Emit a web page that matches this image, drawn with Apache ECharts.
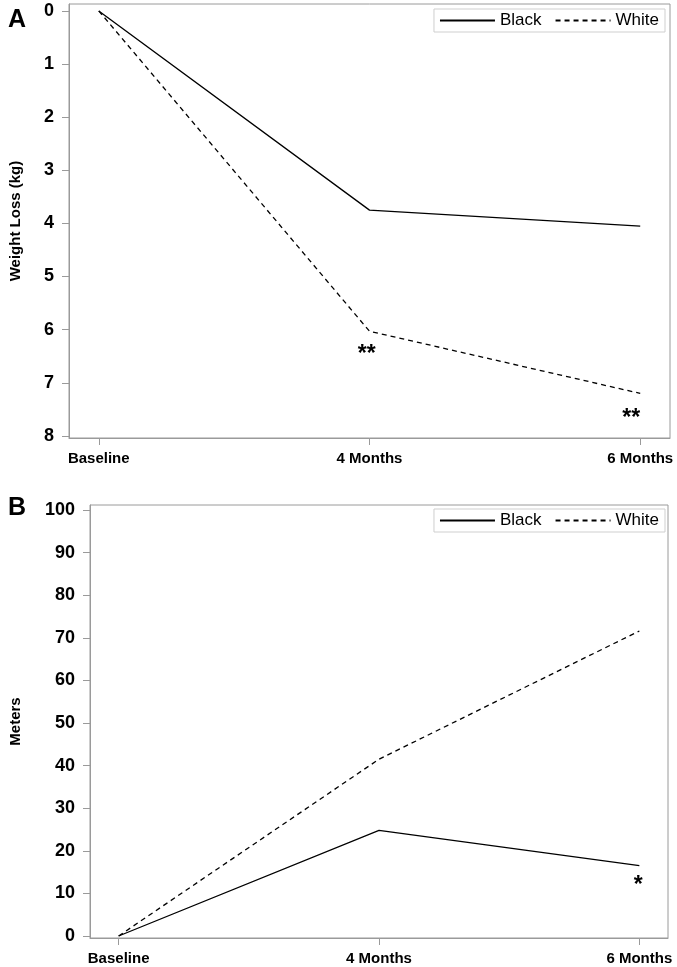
<!DOCTYPE html>
<html>
<head>
<meta charset="utf-8">
<script src="https://cdn.jsdelivr.net/npm/echarts@6/dist/echarts.min.js"></script>
<style>
html,body{margin:0;padding:0;background:#fff;}
#chart{width:677px;height:967px;}
</style>
</head>
<body>
<div id="chart"></div>
<script>
// ---- data ----
var categories = ['Baseline', '4 Months', '6 Months'];
var weightBlack = [0, 3.75, 4.05];
var weightWhite = [0, 6.03, 7.2];
var metersBlack = [0, 24.8, 16.5];
var metersWhite = [0, 41.5, 71.6];
var weightTicks = [0, 1, 2, 3, 4, 5, 6, 7, 8];
var metersTicks = [0, 10, 20, 30, 40, 50, 60, 70, 80, 90, 100];
// significance markers: [category index, value, text]
var weightMarks = [[0.99, 6.48, '**'], [1.967, 7.67, '**']];
var metersMarks = [[1.996, 11.7, '*']];

var FONT = "'Liberation Sans', Arial, Helvetica, sans-serif";
var FRAME = '#9a9a9a';

function pairs(vals) { return vals.map(function (v, i) { return [i, v]; }); }
function marks(arr) {
  return arr.map(function (m) {
    return { coord: [m[0], m[1]], value: m[2], label: { formatter: m[2] } };
  });
}
var markStyle = {
  symbol: 'circle', symbolSize: 1, itemStyle: { color: 'rgba(0,0,0,0)' },
  label: { show: true, position: 'inside', color: '#000', fontSize: 23, fontWeight: 'bold', fontFamily: FONT }
};

function xAxisCfg(gridIndex) {
  return {
    gridIndex: gridIndex, type: 'value', min: -0.11, max: 2.11,
    splitLine: { show: false },
    axisLine: { show: true, onZero: false, lineStyle: { color: FRAME } },
    axisTick: { show: true, inside: false, length: 7, lineStyle: { color: FRAME }, customValues: [0, 1, 2] },
    axisLabel: {
      customValues: [0, 1, 2], margin: 13,
      formatter: function (v) { return categories[Math.round(v)]; },
      color: '#000', fontWeight: 'bold', fontSize: 15, fontFamily: FONT
    }
  };
}
function yAxisCfg(gridIndex, min, max, ticks, inverse, name, nameGap) {
  return {
    gridIndex: gridIndex, type: 'value', min: min, max: max, inverse: inverse,
    name: name, nameLocation: 'middle', nameGap: nameGap, nameRotate: 90,
    nameTextStyle: { color: '#000', fontWeight: 'bold', fontSize: 15, fontFamily: FONT },
    splitLine: { show: false },
    axisLine: { show: true, onZero: false, lineStyle: { color: FRAME } },
    axisTick: { show: true, inside: false, length: 7, lineStyle: { color: FRAME }, customValues: ticks },
    axisLabel: {
      customValues: ticks, margin: 15,
      color: '#000', fontWeight: 'bold', fontSize: 18, fontFamily: FONT
    }
  };
}
function legendCfg(top) {
  return {
    data: ['Black', 'White'], right: 12, top: top, orient: 'horizontal',
    itemWidth: 55, itemHeight: 2, itemGap: 13,
    itemStyle: { opacity: 0 },
    padding: [3, 6, 3, 5], borderColor: '#cfcfcf', borderWidth: 1,
    backgroundColor: '#fff', selectedMode: false,
    textStyle: { color: '#000', fontSize: 17, fontFamily: FONT }
  };
}
function lineSeries(name, data, xi, yi, dashed, mk) {
  var s = {
    name: name, type: 'line', xAxisIndex: xi, yAxisIndex: yi, data: pairs(data),
    symbol: 'none', silent: true,
    lineStyle: { color: '#000', width: 1.3, type: dashed ? [5, 4] : 'solid' },
    itemStyle: { color: '#000' }
  };
  if (mk) { s.markPoint = Object.assign({ data: marks(mk) }, markStyle); }
  return s;
}

var chart = echarts.init(document.getElementById('chart'), null, { renderer: 'canvas' });
chart.setOption({
  animation: false,
  backgroundColor: '#fff',
  title: [
    { text: 'A', left: 3, top: 3, textStyle: { fontSize: 25, fontWeight: 'bold', color: '#000', fontFamily: FONT } },
    { text: 'B', left: 3, top: 491, textStyle: { fontSize: 25, fontWeight: 'bold', color: '#000', fontFamily: FONT } }
  ],
  legend: [legendCfg(9), legendCfg(509)],
  grid: [
    { left: 66, top: 4, width: 604, height: 434, show: true, borderColor: FRAME, borderWidth: 1, backgroundColor: '#fff' },
    { left: 87, top: 505, width: 581, height: 433, show: true, borderColor: FRAME, borderWidth: 1, backgroundColor: '#fff' }
  ],
  xAxis: [xAxisCfg(0), xAxisCfg(1)],
  yAxis: [
    yAxisCfg(0, -0.13, 8.04, weightTicks, true, 'Weight Loss (kg)', 46),
    yAxisCfg(1, -0.47, 101.17, metersTicks, false, 'Meters', 67)
  ],
  series: [
    lineSeries('Black', weightBlack, 0, 0, false),
    lineSeries('White', weightWhite, 0, 0, true, weightMarks),
    lineSeries('Black', metersBlack, 1, 1, false),
    lineSeries('White', metersWhite, 1, 1, true, metersMarks)
  ]
});
</script>
</body>
</html>
